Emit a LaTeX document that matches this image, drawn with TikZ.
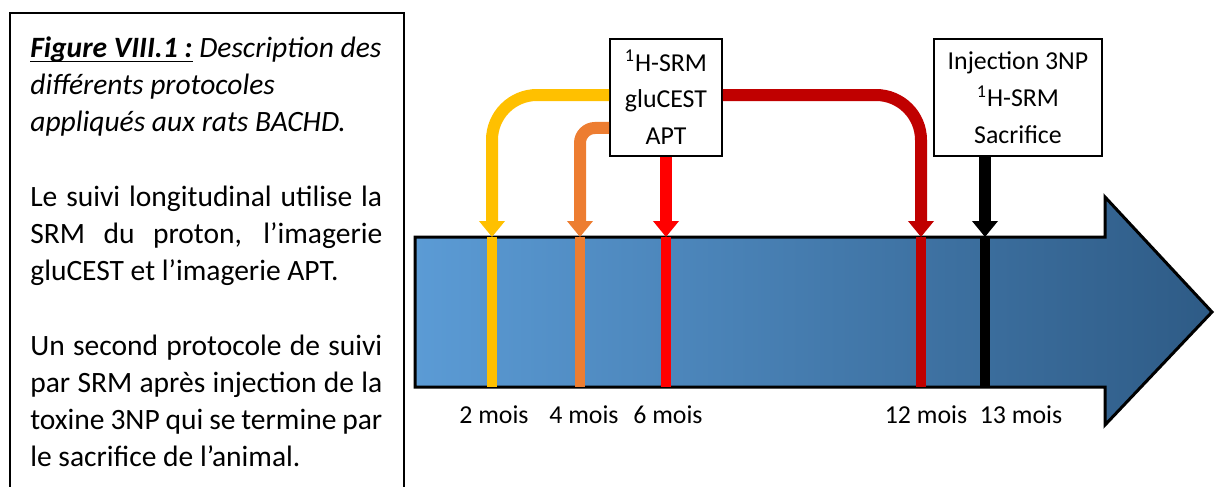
\documentclass[tikz,border=0pt]{standalone}
\usepackage{fontspec}
\setmainfont{Carlito}
\usetikzlibrary{arrows.meta}

\definecolor{yellowc}{HTML}{FFC000}
\definecolor{orangec}{HTML}{ED7D31}
\definecolor{redc}{HTML}{FF0000}
\definecolor{darkredc}{HTML}{C00000}
\definecolor{lightblue}{HTML}{5B9BD5}
\definecolor{darkblue}{HTML}{2E5B86}

% underline placed just under the baseline
\newcommand{\figul}[1]{\setbox0\hbox{#1}\rlap{\rule[-2.8pt]{\wd0}{0.8pt}}\box0\relax}

\begin{document}
\begin{tikzpicture}[x=0.02cm,y=-0.02cm,
  font=\fontsize{14.7}{21.4}\selectfont,
  stepbox/.style={draw,line width=0.04cm,inner sep=0pt,align=center,
    minimum height=2.34cm,font=\fontsize{14.7}{21}\selectfont},
  link/.style={line width=0.24cm,-{Triangle[width=0.5cm,length=0.32cm]}},
  marker/.style={line width=0.2cm}]

  \useasboundingbox (0,0) rectangle (1215,487);

  % Caption frame
  \draw[line width=0.04cm] (10,487) -- (10,13) -- (404,13) -- (404,487);
  \node[anchor=north west,inner sep=0pt,text width=7.04cm,align=justify,
    font=\fontsize{16.8}{21.2}\selectfont]
    (caption) at (30,36) {%
    \itshape\figul{\textbf{Figure VIII.1 :}} Description des\\
    différents protocoles\\
    appliqués aux rats BACHD.\par\vspace{21.2pt}
    \upshape
    Le suivi longitudinal utilise la\linebreak
    SRM du proton, l’imagerie\linebreak
    gluCEST et l’imagerie APT.\par\vspace{21.2pt}
    Un second protocole de suivi\linebreak
    par SRM après injection de la\linebreak
    toxine 3NP qui se termine par\linebreak
    le sacrifice de l’animal.\par};

  % Timeline
  \draw[left color=lightblue,right color=darkblue,line width=0.06cm]
    (415,237) -- (1105,237) -- (1105,197) -- (1212,312)
    -- (1105,425) -- (1105,387) -- (415,387) -- cycle;

  % Time points
  \foreach \x/\c/\n in {492/yellowc/m2,580/orangec/m4,666/redc/m6,
                        921/darkredc/m12,985/black/m13}{
    \coordinate (\n) at (\x,237);
    \draw[marker,\c] (\n) -- (\x,387);
  }

  \node[anchor=base] (l2) at (494,423) {2 mois};
  \node[anchor=base] (l4) at (584,423) {4 mois};
  \node[anchor=base] (l6) at (668,423) {6 mois};
  \node[anchor=base] (l12) at (926,423) {12 mois};
  \node[anchor=base] (l13) at (1021,423) {13 mois};

  % Protocols
  \node[stepbox,minimum width=2.24cm] (mri) at (666,97.5)
    {\textsuperscript{1}H-SRM\\gluCEST\\APT};
  \node[stepbox,minimum width=3.36cm] (inj) at (1018,97.5)
    {Injection 3NP\\\textsuperscript{1}H-SRM\\Sacrifice};

  \draw[link,yellowc,rounded corners=0.9cm]
    ([yshift=0.05cm]mri.west) -| (m2);
  \draw[link,orangec,rounded corners=0.3cm]
    ([yshift=-0.61cm]mri.west) -| (m4);
  \draw[link,redc] (mri.south) -- (m6);
  \draw[link,darkredc,rounded corners=0.9cm]
    ([yshift=0.05cm]mri.east) -| (m12);
  \draw[link,black] (m13 |- inj.south) -- (m13);

\end{tikzpicture}
\end{document}
